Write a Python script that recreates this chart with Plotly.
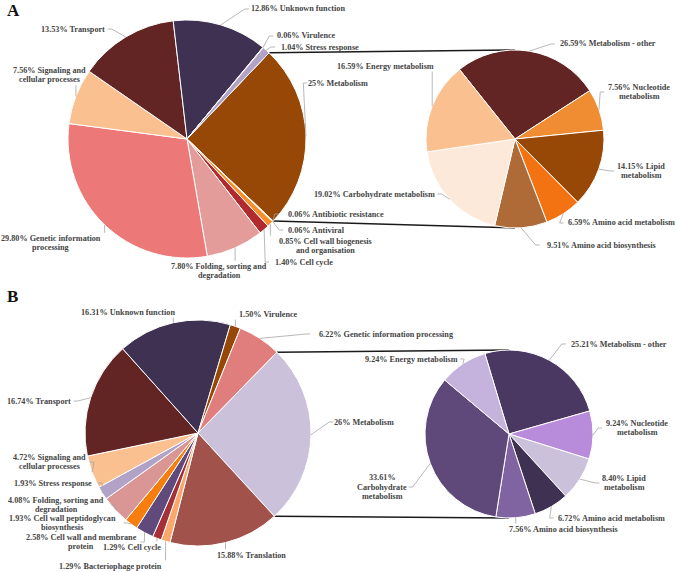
import math
import plotly.graph_objects as go

W, H = 676, 572

# ---------------- DATA ----------------
a_main_labels = ["Metabolism", "Antibiotic resistance", "Antiviral", "Cell wall biogenesis and organisation",
                 "Cell cycle", "Folding, sorting and degradation", "Genetic information processing",
                 "Signaling and cellular processes", "Transport", "Unknown function", "Virulence", "Stress response"]
a_main_values = [25, 0.06, 0.06, 0.85, 1.40, 7.80, 29.80, 7.56, 13.53, 12.86, 0.06, 1.04]

a_sec_labels = ["Metabolism - other", "Nucleotide metabolism", "Lipid metabolism", "Amino acid metabolism",
                "Amino acid biosynthesis", "Carbohydrate metabolism", "Energy metabolism"]
a_sec_values = [26.59, 7.56, 14.15, 6.59, 9.51, 19.02, 16.59]

b_main_labels = ["Metabolism", "Translation", "Bacteriophage protein", "Cell cycle", "Cell wall and membrane protein",
                 "Cell wall peptidoglycan biosynthesis", "Folding, sorting and degradation", "Stress response",
                 "Signaling and cellular processes", "Transport", "Unknown function", "Virulence",
                 "Genetic information processing"]
b_main_values = [26, 15.88, 1.29, 1.29, 2.58, 1.93, 4.08, 1.93, 4.72, 16.74, 16.31, 1.50, 6.22]

b_sec_labels = ["Metabolism - other", "Nucleotide metabolism", "Lipid metabolism", "Amino acid metabolism",
                "Amino acid biosynthesis", "Carbohydrate metabolism", "Energy metabolism"]
b_sec_values = [25.21, 9.24, 8.40, 6.72, 7.56, 33.61, 9.24]

# ---------------- STYLE / LAYOUT ----------------
a_main_colors = ["#974706", "#7F7F7F", "#C0504D", "#F5902A", "#B02A2E", "#E49C9A", "#EC7878",
                 "#FAC090", "#632523", "#3F3151", "#8064A2", "#B3A2C7"]
a_sec_colors = ["#632523", "#F08C32", "#974706", "#F37312", "#AE6A37", "#FDE9D9", "#FAC090"]
b_main_colors = ["#CCC1DA", "#A0524B", "#F9A76B", "#A4303A", "#604A7B", "#F57E0F", "#D99694",
                 "#B3A2C7", "#FAC090", "#632523", "#3F3151", "#974706", "#E07E7E"]
b_sec_colors = ["#4A3862", "#B88BDB", "#CCC1DA", "#3F3151", "#8064A2", "#5F497A", "#C5B3DE"]

# pie geometry in pixels: (cx, cy, r, rotation)
geo = {
    "a_main": (187, 139, 119, 43.6),
    "a_sec": (515, 139, 89, -38.6),
    "b_main": (198, 433, 113, 44.3),
    "b_sec": (509, 434, 84, -16.7),
}

# label centres in pixels (layout)
pos = {
    "a_main": [(338, 83), (336, 214), (316, 230), (325, 246), (304, 262), (219, 271), (51, 243),
               (49, 75), (73, 29), (298, 9), (306, 36), (320, 47)],
    "a_sec": [(608, 44), (639, 92), (641, 171), (621, 223), (601, 245), (374, 194), (385, 66)],
    "b_main": [(364, 422), (251, 555), (110, 566), (132, 547), (81, 542), (62, 523), (56, 505),
               (53, 483), (49, 462), (39, 401), (128, 312), (268, 314), (386, 334)],
    "b_sec": [(619, 344), (637, 428), (624, 483), (611, 518), (563, 529), (382, 487), (411, 359)],
}

wraps = {
    "a_main": {"Genetic information processing": "Genetic information<br>processing",
               "Signaling and cellular processes": "Signaling and<br>cellular processes",
               "Folding, sorting and degradation": "Folding, sorting and<br>degradation",
               "Cell wall biogenesis and organisation": "Cell wall biogenesis<br>and organisation"},
    "a_sec": {"Nucleotide metabolism": "Nucleotide<br>metabolism",
              "Lipid metabolism": "Lipid<br>metabolism"},
    "b_main": {"Signaling and cellular processes": "Signaling and<br>cellular processes",
               "Folding, sorting and degradation": "Folding, sorting and<br>degradation",
               "Cell wall peptidoglycan biosynthesis": "Cell wall peptidoglycan<br>biosynthesis",
               "Cell wall and membrane protein": "Cell wall and membrane<br>protein"},
    "b_sec": {"Nucleotide metabolism": "Nucleotide<br>metabolism",
              "Lipid metabolism": "Lipid<br>metabolism",
              "Carbohydrate metabolism": "<br>Carbohydrate<br>metabolism"},
}

FONT = "Liberation Serif"
TXT = "#454545"
FS = 8.2
LS = 9.3          # line spacing (px) for wrapped labels
CW = 4.1          # approx. char width (px)
LEADER = "#A6A6A6"


def fmt(v):
    return f"{v:g}" if float(v) == int(v) else f"{v:.2f}"


def px2paper(x, y):
    return x / W, 1 - y / H


fig = go.Figure()
annotations = []
shapes = []

pies = {
    "a_main": (a_main_labels, a_main_values, a_main_colors),
    "a_sec": (a_sec_labels, a_sec_values, a_sec_colors),
    "b_main": (b_main_labels, b_main_values, b_main_colors),
    "b_sec": (b_sec_labels, b_sec_values, b_sec_colors),
}

for key, (labels, values, colors) in pies.items():
    cx, cy, r, rot = geo[key]
    fig.add_trace(go.Pie(
        labels=labels, values=values, sort=False, direction="clockwise", rotation=rot,
        marker=dict(colors=colors, line=dict(color="white", width=1)),
        textinfo="none", hoverinfo="label+percent", showlegend=False,
        domain=dict(x=[(cx - r) / W, (cx + r) / W], y=[1 - (cy + r) / H, 1 - (cy - r) / H]),
    ))
    total = sum(values)
    cum = 0
    for i, (lab, v) in enumerate(zip(labels, values)):
        mid = math.radians(rot + 360 * (cum + v / 2) / total)
        cum += v
        axp = cx + r * math.sin(mid)
        ayp = cy - r * math.cos(mid)
        lx, ly = pos[key][i]
        name = wraps[key].get(lab, lab)
        text = f"{fmt(v)}%{name}" if name.startswith("<br>") else f"{fmt(v)}% {name}"
        lines = text.split("<br>")
        n = len(lines)
        for k, ln in enumerate(lines):
            yy = ly + (k - (n - 1) / 2) * LS
            xp, yp = px2paper(lx, yy)
            annotations.append(dict(
                x=xp, y=yp, xref="paper", yref="paper", text=f"<b>{ln}</b>", showarrow=False,
                xanchor="center", yanchor="middle",
                font=dict(family=FONT, size=FS, color=TXT), borderpad=0,
            ))
        # elbow leader line: from label side, short horizontal, then to slice edge
        hw = max(len(l) for l in lines) * CW / 2 + 2
        hh = n * LS / 2
        if axp > lx + hw:
            sx0, sy0 = lx + hw, ly
            pts = [(sx0, sy0), (sx0 + 4, sy0), (axp, ayp)]
        elif axp < lx - hw:
            sx0, sy0 = lx - hw, ly
            pts = [(sx0, sy0), (sx0 - 4, sy0), (axp, ayp)]
        else:
            sy0 = ly - hh - 1 if ayp < ly else ly + hh + 1
            pts = [(axp, sy0), (axp, ayp)]
        path = ""
        for j, (px, py) in enumerate(pts):
            qx, qy = px2paper(px, py)
            path += ("M" if j == 0 else " L") + f"{qx:.5f},{qy:.5f}"
        shapes.append(dict(type="path", xref="paper", yref="paper", path=path,
                           line=dict(color=LEADER, width=0.8)))


# connector lines (pie-of-pie)
def connectors(main_key, sec_key, main_vals):
    cx, cy, r, rot = geo[main_key]
    sx, sy, sr, _ = geo[sec_key]
    total = sum(main_vals)
    a0 = math.radians(rot)
    a1 = math.radians(rot + 360 * main_vals[0] / total)
    p0 = (cx + r * math.sin(a0), cy - r * math.cos(a0))
    p1 = (cx + r * math.sin(a1), cy - r * math.cos(a1))
    for (px, py), (qx, qy) in [(p0, (sx, sy - sr)), (p1, (sx, sy + sr))]:
        x0, y0 = px2paper(px, py)
        x1, y1 = px2paper(qx, qy)
        shapes.append(dict(type="line", xref="paper", yref="paper", x0=x0, y0=y0, x1=x1, y1=y1,
                           line=dict(color="#1A1A1A", width=1.5), layer="below"))


connectors("a_main", "a_sec", a_main_values)
connectors("b_main", "b_sec", b_main_values)

# panel letters
for letter, (x, y) in [("A", (13, 10)), ("B", (12, 296))]:
    xp, yp = px2paper(x, y)
    annotations.append(dict(x=xp, y=yp, xref="paper", yref="paper", text=f"<b>{letter}</b>",
                            showarrow=False, xanchor="center", yanchor="middle",
                            font=dict(family=FONT, size=17, color="#111111")))

fig.update_layout(
    width=W, height=H, autosize=False,
    margin=dict(l=0, r=0, t=0, b=0),
    paper_bgcolor="white", plot_bgcolor="white",
    annotations=annotations, shapes=shapes, showlegend=False,
)

fig.write_html("out.html", config={"displayModeBar": False},
               post_script="document.body.style.margin='0px';document.body.style.overflow='hidden';")
